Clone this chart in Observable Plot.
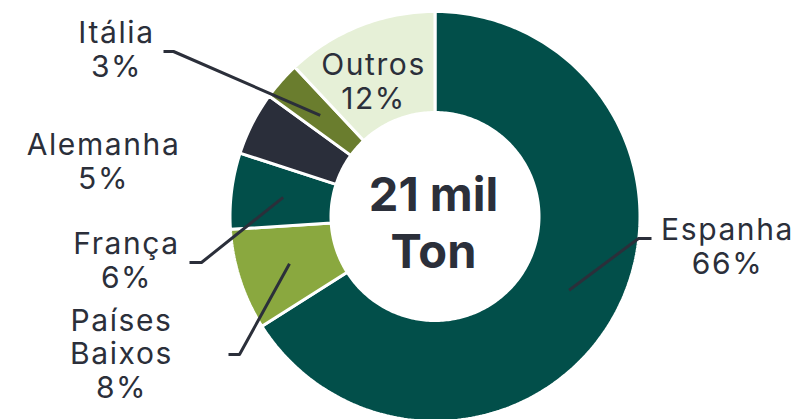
<!DOCTYPE html>
<html><head><meta charset="utf-8">
<script src="https://cdn.jsdelivr.net/npm/d3@7"></script>
<script src="https://cdn.jsdelivr.net/npm/@observablehq/plot@0.6"></script>
<style>body{margin:0;background:#fff}#chart svg{display:block}</style>
</head><body><div id="chart"></div>
<script>
// ---- data ----
const countries = ["Espanha", "Países Baixos", "França", "Alemanha", "Itália", "Outros"];
const labelNames = ["Espanha", "Países\nBaixos", "França", "Alemanha", "Itália", "Outros"];
const shares = [66, 8, 6, 5, 3, 12];
const sliceColors = ["#024f4a", "#8aa83f", "#024f4a", "#2a2e3a", "#6a7d2e", "#e6f0d7"];
const totalLabel = "21 mil\nTon";

// ---- layout (pixels) ----
const W = 799, H = 419;
const CX = 434.5, CY = 216, R_OUT = 205, R_IN = 104, R_MID = 153;
const textColor = "#2b2f3a";
// label: [center x, baseline of last line]; elbow: [end x, elbow x, y] or null
const labelLayout = {
  "Espanha":       {x: 727, y: 273, elbow: [651, 638, 238]},
  "Países Baixos": {x: 121, y: 397, elbow: [228, 239, 354]},
  "França":        {x: 126, y: 287, elbow: [189, 201, 262]},
  "Alemanha":      {x: 103, y: 188, elbow: null},
  "Itália":        {x: 116, y: 76,  elbow: [163, 173, 51]},
  "Outros":        {x: 373, y: 108, elbow: null}
};

const rows = countries.map((c, i) => ({name: c, label: labelNames[i], share: shares[i]}));
const arcs = d3.pie().sort(null).value(d => d.share)(rows);

const pt = (a, r) => [CX + r * Math.sin(a), CY - r * Math.cos(a)];

// ring polygons computed from the pie angles
const ringPts = [];
for (const a of arcs) {
  const n = Math.max(2, Math.ceil((a.endAngle - a.startAngle) / (Math.PI / 180)));
  const pts = [];
  for (let k = 0; k <= n; k++) pts.push(pt(a.startAngle + (a.endAngle - a.startAngle) * k / n, R_OUT));
  for (let k = n; k >= 0; k--) pts.push(pt(a.startAngle + (a.endAngle - a.startAngle) * k / n, R_IN));
  pts.push(pts[0]);
  pts.forEach(([x, y]) => ringPts.push({name: a.data.name, x, y}));
}

// leader lines
const leaderPts = [];
for (const a of arcs) {
  const L = labelLayout[a.data.name];
  if (!L.elbow) continue;
  const mid = (a.startAngle + a.endAngle) / 2;
  const [mx, my] = pt(mid, R_MID);
  leaderPts.push({name: a.data.name, x: L.elbow[0], y: L.elbow[2]});
  leaderPts.push({name: a.data.name, x: L.elbow[1], y: L.elbow[2]});
  leaderPts.push({name: a.data.name, x: mx, y: my});
}

const labelRows = arcs.map(a => ({
  name: a.data.name,
  text: a.data.label + "\n" + a.data.share + "%",
  x: labelLayout[a.data.name].x,
  y: labelLayout[a.data.name].y
}));

const chart = Plot.plot({
  width: W, height: H,
  margin: 0,
  style: {fontFamily: "Inter, 'DejaVu Sans', sans-serif", background: "#fff"},
  x: {domain: [0, W], range: [0, W], axis: null},
  y: {domain: [0, H], range: [0, H], axis: null},
  color: {domain: countries, range: sliceColors},
  marks: [
    Plot.line(ringPts, {x: "x", y: "y", z: "name", fill: "name", stroke: "#fff", strokeWidth: 3, strokeLinejoin: "miter", curve: "linear"}),
    Plot.line(leaderPts, {x: "x", y: "y", z: "name", stroke: textColor, strokeWidth: 3, strokeLinejoin: "round", strokeLinecap: "butt"}),
    Plot.text(labelRows, {x: "x", y: "y", text: "text", fill: textColor, fontSize: 30, fontWeight: 400, lineHeight: 1.11, lineAnchor: "bottom", textAnchor: "middle"}),
    Plot.text([totalLabel], {x: () => 433, y: () => 267, text: d => d, fill: textColor, fontSize: 47, fontWeight: 700, lineHeight: 1.21, lineAnchor: "bottom", textAnchor: "middle"})
  ]
});
// wider tracking for the country labels (first text mark)
const textGroups = chart.querySelectorAll('g[aria-label="text"]');
if (textGroups[0]) textGroups[0].setAttribute("letter-spacing", "1.6");
document.getElementById("chart").append(chart);
</script>
</body></html>
